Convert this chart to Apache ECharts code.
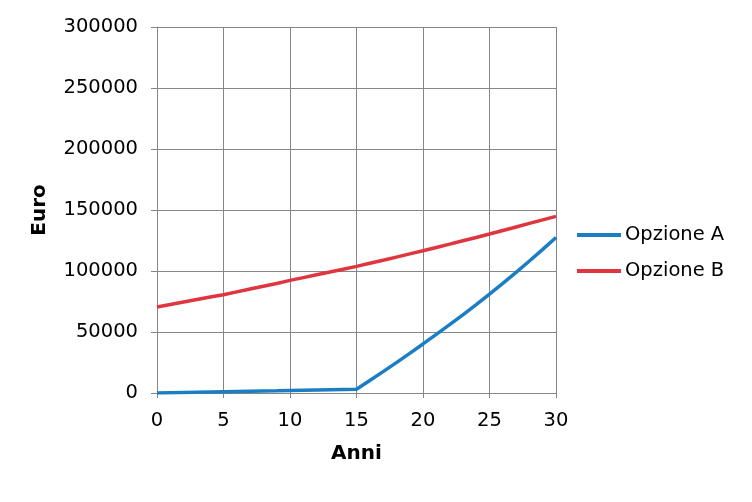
<!DOCTYPE html>
<html><head><meta charset="utf-8">
<script src="https://cdn.jsdelivr.net/npm/echarts@6/dist/echarts.min.js"></script>
<style>html,body{margin:0;padding:0;background:#fff}#c{width:752px;height:502px}</style>
</head><body><div id="c"></div>
<script>
const years = [0,1,2,3,4,5,6,7,8,9,10,11,12,13,14,15,16,17,18,19,20,21,22,23,24,25,26,27,28,29,30];
const opzioneA = [0,200,400,600,800,1000,1200,1400,1600,1800,2100,2300,2500,2700,2900,3100,10300,17500,24900,32500,40200,48100,56000,64100,72500,81100,89900,98900,108200,117700,127500];
const opzioneB = [70500,72500,74600,76700,78700,80600,82900,85200,87500,89800,92300,94600,96900,99200,101500,103800,106300,108800,111400,114000,116600,119300,122000,124800,127500,130300,133200,136100,139000,141900,144800];
const seriesNames = ['Opzione A','Opzione B'];
const FONT = 'DejaVu Sans';
const grey = '#868686';
const chart = echarts.init(document.getElementById('c'));
chart.setOption({
  animation:false,
  textStyle:{fontFamily:FONT},
  grid:{left:157,right:196,top:27,bottom:109,containLabel:false},
  legend:{
    orient:'vertical', left:572, top:220, itemGap:16, itemWidth:44, itemHeight:4,
    icon:'rect',
    textStyle:{fontFamily:FONT,fontSize:19.5,color:'#000',padding:[0,0,0,-1]},
    data:seriesNames
  },
  xAxis:{
    type:'value', min:0, max:30, interval:5,
    name:'Anni', nameLocation:'middle', nameGap:51,
    nameTextStyle:{fontFamily:FONT,fontSize:20,fontWeight:'bold',color:'#000'},
    axisLine:{show:true,lineStyle:{color:grey,width:1}},
    axisTick:{show:true,inside:false,length:5,lineStyle:{color:grey}},
    axisLabel:{fontFamily:FONT,fontSize:19.5,color:'#000',margin:18},
    splitLine:{show:true,lineStyle:{color:grey,width:1}}
  },
  yAxis:{
    type:'value', min:0, max:300000, interval:50000,
    name:'Euro', nameLocation:'middle', nameGap:107, nameRotate:90,
    nameTextStyle:{fontFamily:FONT,fontSize:20,fontWeight:'bold',color:'#000'},
    axisLine:{show:true,lineStyle:{color:grey,width:1}},
    axisTick:{show:true,inside:false,length:6,lineStyle:{color:grey}},
    axisLabel:{fontFamily:FONT,fontSize:19.5,color:'#000',margin:19,formatter:v=>String(v)},
    splitLine:{show:true,lineStyle:{color:grey,width:1}}
  },
  series:[
    {name:seriesNames[0],type:'line',showSymbol:false,symbol:'none',
     data:years.map((x,i)=>[x,opzioneA[i]]),
     lineStyle:{color:'#1b7ec2',width:3.5},itemStyle:{color:'#1b7ec2'},z:3},
    {name:seriesNames[1],type:'line',showSymbol:false,symbol:'none',
     data:years.map((x,i)=>[x,opzioneB[i]]),
     lineStyle:{color:'#e0353f',width:3.5},itemStyle:{color:'#e0353f'},z:2}
  ]
});
</script></body></html>
